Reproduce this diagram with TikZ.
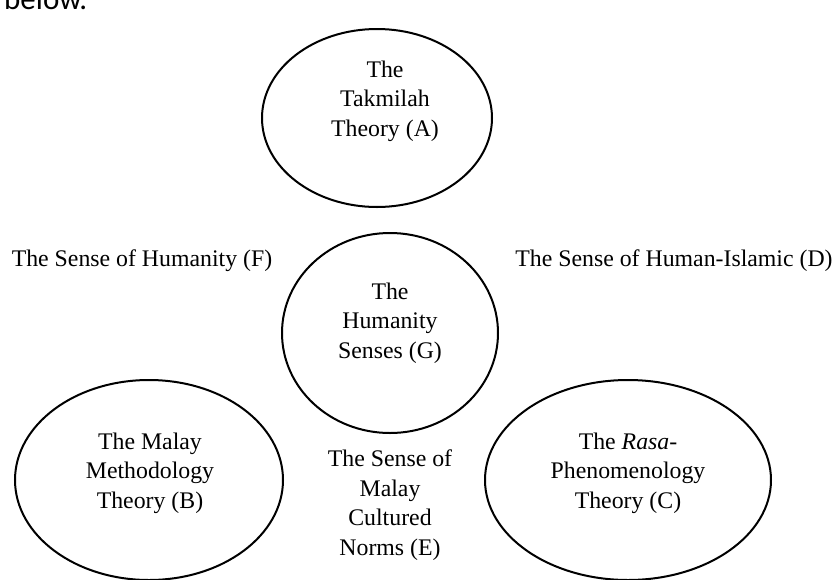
\documentclass[tikz,border=0pt]{standalone}
\usepackage{fontspec}
\setmainfont{Liberation Serif}
\newfontfamily\carlito{Carlito}
\usetikzlibrary{shapes.geometric,positioning}

\begin{document}
\begin{tikzpicture}[x=1pt,y=-1pt,
  theory/.style={ellipse,draw,line width=2pt,inner sep=0pt},
  txt/.style={align=center,inner sep=0pt,font=\fontsize{23.8}{29.5}\selectfont}]
  \clip (0,0) rectangle (836,579);

  \node[anchor=base west,inner sep=0pt,font=\carlito\fontsize{31}{31}\selectfont] (intro) at (4,9) {below.};

  \node[theory, minimum width=230, minimum height=178] (takmilah) at (377,118) {};
  \node[theory, minimum width=216, minimum height=200] (humanity) at (390,333) {};
  \node[theory, minimum width=268, minimum height=200] (malay)    at (149,480) {};
  \node[theory, minimum width=286, minimum height=200] (rasa)     at (628,480) {};

  \node[txt] (takmilahtxt) at (385,101) {The\\Takmilah\\Theory (A)};
  \node[txt] (humanitytxt) at (390,323) {The\\Humanity\\Senses (G)};
  \node[txt] (malaytxt)    at (150,473) {The Malay\\Methodology\\Theory (B)};
  \node[txt] (rasatxt)     at (628,473) {The \textit{Rasa}-\\Phenomenology\\Theory (C)};

  \node[txt] (senseF) at (142,261) {The Sense of Humanity (F)};
  \node[txt] (senseD) at (674,261) {The Sense of Human-Islamic (D)};
  \node[txt] (senseE) at (390,505) {The Sense of\\Malay\\Cultured\\Norms (E)};
\end{tikzpicture}
\end{document}
